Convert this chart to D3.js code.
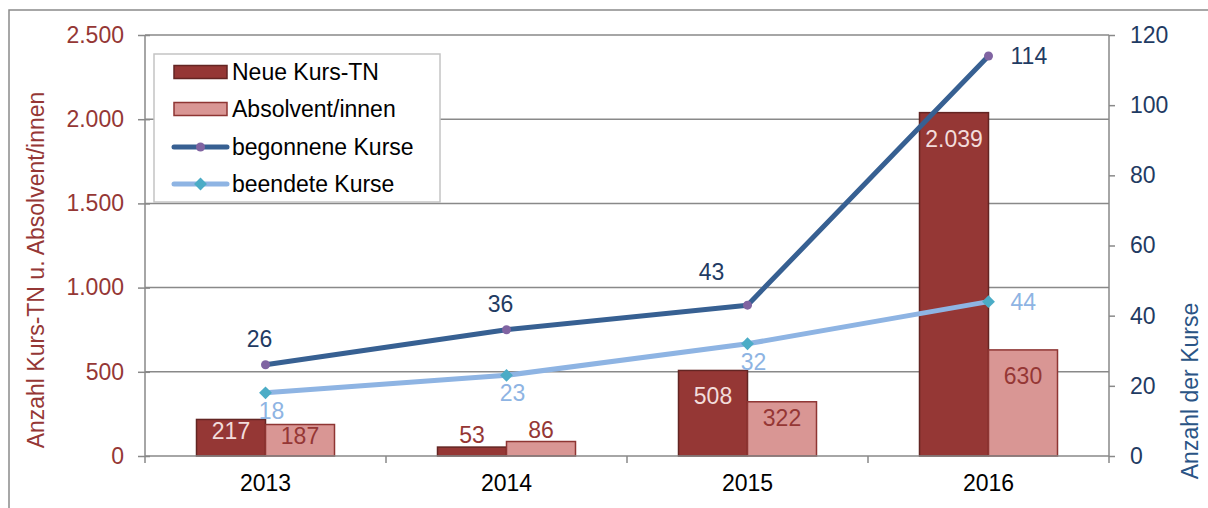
<!DOCTYPE html>
<html>
<head>
<meta charset="utf-8">
<script src="https://cdn.jsdelivr.net/npm/d3@7"></script>
<style>
  html, body { margin: 0; padding: 0; background: #fff; }
  svg { display: block; font-family: "Liberation Sans", Arial, sans-serif; }
</style>
</head>
<body>
<svg id="chart" width="1208" height="508"></svg>
<script>
// Kursdaten 2013–2016
const years = ["2013", "2014", "2015", "2016"];
const neueKursTN = [217, 53, 508, 2039];
const absolventen = [187, 86, 322, 630];
const begonneneKurse = [26, 36, 43, 114];
const beendeteKurse = [18, 23, 32, 44];

const leftTicks = [0, 500, 1000, 1500, 2000, 2500];
const rightTicks = [0, 20, 40, 60, 80, 100, 120];

// where each line's value label sits relative to its point
const begonnenePlacement = ["above", "above", "aboveLeft", "right"];
const beendetePlacement = ["below", "below", "below", "right"];

const seriesNames = ["Neue Kurs-TN", "Absolvent/innen", "begonnene Kurse", "beendete Kurse"];

const de = d3.formatLocale({ decimal: ",", thousands: ".", grouping: [3], currency: ["", " €"] });
const fmt = de.format(",d");

const C = {
  darkBar: "#953735", darkBarStroke: "#632523",
  lightBar: "#D99694", lightBarStroke: "#8E3533",
  navyLine: "#376092", purple: "#8064A2",
  skyLine: "#8EB4E3", teal: "#4BACC6",
  axis: "#898989", leftText: "#953735", rightText: "#1F3B63",
  navyText: "#1F3B63", skyText: "#8EB4E3", barLabelLight: "#F2DCDB"
};

const svg = d3.select("#chart");
const FS = 23;

const plot = { left: 145, right: 1109, top: 35, bottom: 456 };

const x = d3.scaleBand().domain(years).range([plot.left, plot.right]).padding(0);
const y = d3.scaleLinear().domain([0, 2500]).range([plot.bottom, plot.top]);
const y2 = d3.scaleLinear().domain([0, 120]).range([plot.bottom, plot.top]);
const barW = 69;

// outer frame
svg.append("rect").attr("x", 9).attr("y", 10).attr("width", 1300).attr("height", 600)
  .attr("fill", "none").attr("stroke", "#8a8a8a").attr("stroke-width", 1.5);

// horizontal gridlines
svg.append("g").selectAll("line").data(leftTicks.filter(d => d > 0)).join("line")
  .attr("x1", plot.left).attr("x2", plot.right)
  .attr("y1", d => y(d)).attr("y2", d => y(d))
  .attr("stroke", C.axis).attr("stroke-width", 1.5);

// left axis
const gL = svg.append("g").attr("transform", `translate(${plot.left},0)`)
  .call(d3.axisLeft(y).tickValues(leftTicks).tickFormat(fmt).tickSize(7).tickPadding(14));
gL.select(".domain").remove();
gL.selectAll(".tick line").attr("x1", -7).attr("x2", 5).attr("stroke", C.axis).attr("stroke-width", 1.5);
gL.selectAll(".tick text").attr("font-size", FS).attr("fill", C.leftText).attr("font-family", "Liberation Sans, Arial, sans-serif");

// right axis
const gR = svg.append("g").attr("transform", `translate(${plot.right},0)`)
  .call(d3.axisRight(y2).tickValues(rightTicks).tickSize(6).tickPadding(15));
gR.select(".domain").remove();
gR.selectAll(".tick line").attr("stroke", C.axis).attr("stroke-width", 1.5);
gR.selectAll(".tick text").attr("font-size", FS).attr("fill", C.rightText).attr("font-family", "Liberation Sans, Arial, sans-serif");

// axis lines
svg.append("line").attr("x1", plot.left).attr("x2", plot.left).attr("y1", plot.top).attr("y2", plot.bottom + 7)
  .attr("stroke", C.axis).attr("stroke-width", 1.5);
svg.append("line").attr("x1", plot.right).attr("x2", plot.right).attr("y1", plot.top).attr("y2", plot.bottom + 7)
  .attr("stroke", C.axis).attr("stroke-width", 1.5);

// bars
const bars = svg.append("g");
bars.selectAll("rect.neu").data(neueKursTN).join("rect").attr("class", "neu")
  .attr("x", (d, i) => x.bandwidth() / 2 + x(years[i]) - barW)
  .attr("y", d => y(d)).attr("width", barW).attr("height", d => y(0) - y(d))
  .attr("fill", C.darkBar).attr("stroke", C.darkBarStroke).attr("stroke-width", 1.5);
bars.selectAll("rect.abs").data(absolventen).join("rect").attr("class", "abs")
  .attr("x", (d, i) => x.bandwidth() / 2 + x(years[i]))
  .attr("y", d => y(d)).attr("width", barW).attr("height", d => y(0) - y(d))
  .attr("fill", C.lightBar).attr("stroke", C.lightBarStroke).attr("stroke-width", 1.5);

// x axis line and category separators
svg.append("line").attr("x1", plot.left).attr("x2", plot.right).attr("y1", plot.bottom).attr("y2", plot.bottom)
  .attr("stroke", C.axis).attr("stroke-width", 1.5);
svg.append("g").selectAll("line").data(years.slice(1)).join("line")
  .attr("x1", d => x(d)).attr("x2", d => x(d)).attr("y1", plot.bottom).attr("y2", plot.bottom + 7)
  .attr("stroke", C.axis).attr("stroke-width", 1.5);
svg.append("g").selectAll("text").data(years).join("text")
  .attr("x", d => x(d) + x.bandwidth() / 2).attr("y", 483).attr("dy", "0.35em")
  .attr("text-anchor", "middle").attr("font-size", FS).attr("fill", "#000").text(d => d);

// bar value labels: inside near the top when the bar is tall enough, else above it
function barLabel(values, side, insideColor, outsideColor) {
  svg.append("g").selectAll("text").data(values).join("text")
    .attr("x", (d, i) => x(years[i]) + x.bandwidth() / 2 + side * barW / 2)
    .attr("y", d => {
      const h = y(0) - y(d);
      if (h < 25) return y(d) - 12;
      return y(d) + Math.min(26, Math.max(11, h * 0.3));
    })
    .attr("dy", "0.35em").attr("text-anchor", "middle").attr("font-size", FS)
    .attr("fill", d => (y(0) - y(d) < 25 ? outsideColor : insideColor))
    .text(d => fmt(d));
}
barLabel(neueKursTN, -1, C.barLabelLight, C.darkBar);
barLabel(absolventen, 1, C.darkBar, C.darkBar);

// lines
const cx = i => x(years[i]) + x.bandwidth() / 2;
const lineGen = d3.line().x((d, i) => cx(i)).y(d => y2(d));

svg.append("path").datum(begonneneKurse).attr("d", lineGen)
  .attr("fill", "none").attr("stroke", C.navyLine).attr("stroke-width", 5).attr("stroke-linejoin", "round");
svg.append("path").datum(beendeteKurse).attr("d", lineGen)
  .attr("fill", "none").attr("stroke", C.skyLine).attr("stroke-width", 5).attr("stroke-linejoin", "round");

svg.append("g").selectAll("circle").data(begonneneKurse).join("circle")
  .attr("cx", (d, i) => cx(i)).attr("cy", d => y2(d)).attr("r", 4.5).attr("fill", C.purple);
const diamond = d3.symbol().type(d3.symbolDiamond2).size(105);
svg.append("g").selectAll("path").data(beendeteKurse).join("path")
  .attr("d", diamond).attr("transform", (d, i) => `translate(${cx(i)},${y2(d)})`).attr("fill", C.teal);

function lineLabels(values, placement, color) {
  const dx = { above: -6, aboveLeft: -36, below: 6, right: 22 };
  const dy = { above: -26, aboveLeft: -33, below: 18, right: 0 };
  svg.append("g").selectAll("text").data(values).join("text")
    .attr("x", (d, i) => cx(i) + dx[placement[i]])
    .attr("y", (d, i) => y2(d) + dy[placement[i]])
    .attr("dy", "0.35em")
    .attr("text-anchor", (d, i) => placement[i] === "right" ? "start" : "middle")
    .attr("font-size", FS).attr("fill", color).text(d => fmt(d));
}
lineLabels(begonneneKurse, begonnenePlacement, C.navyText);
lineLabels(beendeteKurse, beendetePlacement, C.skyText);

// axis titles
svg.append("text").attr("transform", "translate(44,270) rotate(-90)")
  .attr("text-anchor", "middle").attr("font-size", FS).attr("fill", C.leftText)
  .text("Anzahl Kurs-TN u. Absolvent/innen");
svg.append("text").attr("transform", "translate(1198,391) rotate(-90)")
  .attr("text-anchor", "middle").attr("font-size", FS).attr("fill", "#2A5485")
  .text("Anzahl der Kurse");

// legend
const lg = svg.append("g").attr("transform", "translate(154,54)");
lg.append("rect").attr("width", 286).attr("height", 148).attr("fill", "#fff")
  .attr("stroke", "#c4c4c4").attr("stroke-width", 1.5);
const rowY = [18, 55, 93, 130];
seriesNames.forEach((name, i) => {
  const g = lg.append("g").attr("transform", `translate(0,${rowY[i]})`);
  if (i < 2) {
    g.append("rect").attr("x", 20).attr("y", -6.5).attr("width", 53).attr("height", 13)
      .attr("fill", i === 0 ? C.darkBar : C.lightBar)
      .attr("stroke", i === 0 ? C.darkBarStroke : C.lightBarStroke).attr("stroke-width", 1.5);
  } else {
    g.append("line").attr("x1", 20).attr("x2", 73).attr("y1", 0).attr("y2", 0)
      .attr("stroke", i === 2 ? C.navyLine : C.skyLine).attr("stroke-width", 5).attr("stroke-linecap", "round");
    if (i === 2) g.append("circle").attr("cx", 46.5).attr("cy", 0).attr("r", 4.5).attr("fill", C.purple);
    else g.append("path").attr("d", diamond).attr("transform", "translate(46.5,0)").attr("fill", C.teal);
  }
  g.append("text").attr("x", 78).attr("y", 0).attr("dy", "0.35em")
    .attr("font-size", FS).attr("fill", "#000").text(name);
});
</script>
</body>
</html>
